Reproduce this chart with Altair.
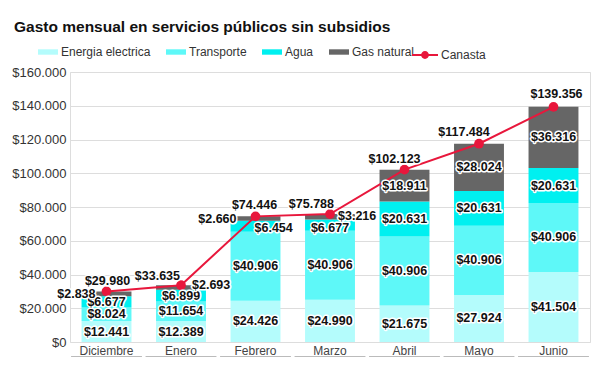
import altair as alt
import pandas as pd

# ---------------- data ----------------
meses = ["Diciembre", "Enero", "Febrero", "Marzo", "Abril", "Mayo", "Junio"]
energia = [12441, 12389, 24426, 24990, 21675, 27924, 41504]
transporte = [8024, 11654, 40906, 40906, 40906, 40906, 40906]
agua = [6677, 6899, 6454, 6677, 20631, 20631, 20631]
gas = [2838, 2693, 2660, 3216, 18911, 28024, 36316]
canasta = [29980, 33635, 74446, 75788, 102123, 117484, 139356]
series = ["Energia electrica", "Transporte", "Agua", "Gas natural"]
y_ticks = [0, 20000, 40000, 60000, 80000, 100000, 120000, 140000, 160000]

# ---------------- style ----------------
colores = ["#b4fcfc", "#5ef8f8", "#00f0f0", "#666666"]
rojo = "#e8173c"
FONT = "Liberation Sans"
BOLD = "Liberation Sans"

# label placement (annotation layout): (align, dx, dy)
ajustes = {
    ("Diciembre", "Gas natural"): ("right", -11, 0),
    ("Enero", "Gas natural"): ("left", 11, -3),
    ("Febrero", "Gas natural"): ("right", -19, 0),
    ("Marzo", "Gas natural"): ("left", 8, -1),
    ("Febrero", "Agua"): ("left", -1, 2),
    ("Marzo", "Agua"): ("center", 0, 3),
    ("Diciembre", "Canasta"): ("center", 1, -10),
    ("Enero", "Canasta"): ("right", -1, -9),
    ("Febrero", "Canasta"): ("center", -1, -11),
    ("Marzo", "Canasta"): ("right", 4, -10),
    ("Abril", "Canasta"): ("center", -10, -11),
    ("Mayo", "Canasta"): ("center", -15, -12),
    ("Junio", "Canasta"): ("center", 3, -13),
}

# ---------------- tables ----------------
vals = [energia, transporte, agua, gas]
rows = []
for i, m in enumerate(meses):
    base = 0
    for k, s in enumerate(series):
        v = vals[k][i]
        rows.append({"mes": m, "serie": s, "orden": k, "valor": v,
                     "y0": base, "y1": base + v, "mid": base + v / 2})
        base += v
df = pd.DataFrame(rows)

tot = pd.DataFrame({"mes": meses, "valor": canasta, "serie": "Canasta"})

lab_rows = []
for r in rows:
    a = ajustes.get((r["mes"], r["serie"]), ("center", 0, 0))
    lab_rows.append({"mes": r["mes"], "pos": r["mid"], "valor": r["valor"],
                     "align": a[0], "dx": a[1], "dy": a[2]})
for m, v in zip(meses, canasta):
    a = ajustes.get((m, "Canasta"), ("center", 0, -11))
    lab_rows.append({"mes": m, "pos": v, "valor": v,
                     "align": a[0], "dx": a[1], "dy": a[2]})
labs = pd.DataFrame(lab_rows)

# ---------------- encodings ----------------
x_enc = alt.X("mes:N", sort=meses,
              scale=alt.Scale(domain=meses, paddingInner=0.33, paddingOuter=0.155),
              axis=alt.Axis(title=None, labelAngle=0, ticks=False, domain=False,
                            labelFont=FONT, labelFontSize=12, labelColor="#444",
                            labelPadding=3, grid=False))
y_axis = alt.Axis(title=None, values=y_ticks, format="$,.0f", grid=True,
                  gridColor="#dddddd", gridWidth=1.2, domain=False, ticks=False,
                  labelFont=FONT, labelFontSize=13, labelColor="#333",
                  labelPadding=4)
y_scale = alt.Scale(domain=[0, 160000], nice=False)


def Y(field):
    return alt.Y(field, scale=y_scale, axis=y_axis)


bars = alt.Chart(df).mark_bar().encode(
    x=x_enc,
    y=Y("y0:Q"),
    y2="y1:Q",
    color=alt.Color("serie:N", sort=series,
                    scale=alt.Scale(domain=series, range=colores),
                    legend=alt.Legend(title=None, orient="none", legendX=-32, legendY=-30,
                                      direction="horizontal",
                                      symbolType="M-1,-0.27H1V0.27H-1Z", symbolSize=400,
                                      symbolStrokeWidth=0, labelFont=FONT,
                                      labelFontSize=12, labelColor="#333",
                                      labelOffset=3, columnPadding=15)),
)

underline = alt.Chart(tot).mark_bar(color="#bbbbbb", width=alt.RelativeBandSize(1.42)).encode(
    x=x_enc, y=alt.value(284), y2=alt.value(285.3)
)

line = alt.Chart(tot).mark_line(color=rojo, strokeWidth=2).encode(x=x_enc, y=Y("valor:Q"))

points = alt.Chart(tot).mark_circle(size=95, opacity=1).encode(
    x=x_enc, y=Y("valor:Q"),
    fill=alt.Fill("serie:N", scale=alt.Scale(domain=["Canasta"], range=[rojo]),
                  legend=alt.Legend(title=None, orient="none", legendX=342, legendY=-30,
                                    symbolType="M-1,-0.07H1V0.07H-1Z M-0.3,0A0.3,0.3,0,1,1,0.3,0A0.3,0.3,0,1,1,-0.3,0Z",
                                    symbolSize=676, symbolStrokeWidth=0,
                                    labelFont=FONT, labelFontSize=12,
                                    labelColor="#333", labelOffset=3)),
)

text_layers = []
for (al, dx, dy), g in labs.groupby(["align", "dx", "dy"]):
    base = alt.Chart(g).encode(x=x_enc, y=Y("pos:Q"),
                               text=alt.Text("valor:Q", format="$,.0f"))
    halo = base.mark_text(align=al, dx=int(dx), dy=int(dy), baseline="middle",
                          font=BOLD, fontSize=12.5, fontWeight="bold",
                          stroke="white", strokeWidth=3, strokeJoin="round",
                          fill="white")
    fg = base.mark_text(align=al, dx=int(dx), dy=int(dy), baseline="middle",
                        font=BOLD, fontSize=12.5, fontWeight="bold", color="#111")
    text_layers += [halo, fg]

chart = alt.layer(bars, underline, line, points, *text_layers).resolve_scale(
    color="independent", fill="independent"
).properties(
    width=520, height=270,
    padding={"left": 62, "top": 64, "right": 2, "bottom": 15},
    autosize=alt.AutoSizeParams(type="none"),
    title=alt.TitleParams("Gasto mensual en servicios públicos sin subsidios",
                          anchor="start", frame="group", dx=-56, offset=7,
                          font=BOLD, fontSize=15.5, fontWeight="bold", color="#111"),
).configure_view(stroke=None).configure(
    locale={"number": {"decimal": ",", "thousands": ".", "grouping": [3],
                       "currency": ["$", ""]}},
    background="white",
)

chart.save("out.html", embed_options={"renderer": "svg", "actions": False})
